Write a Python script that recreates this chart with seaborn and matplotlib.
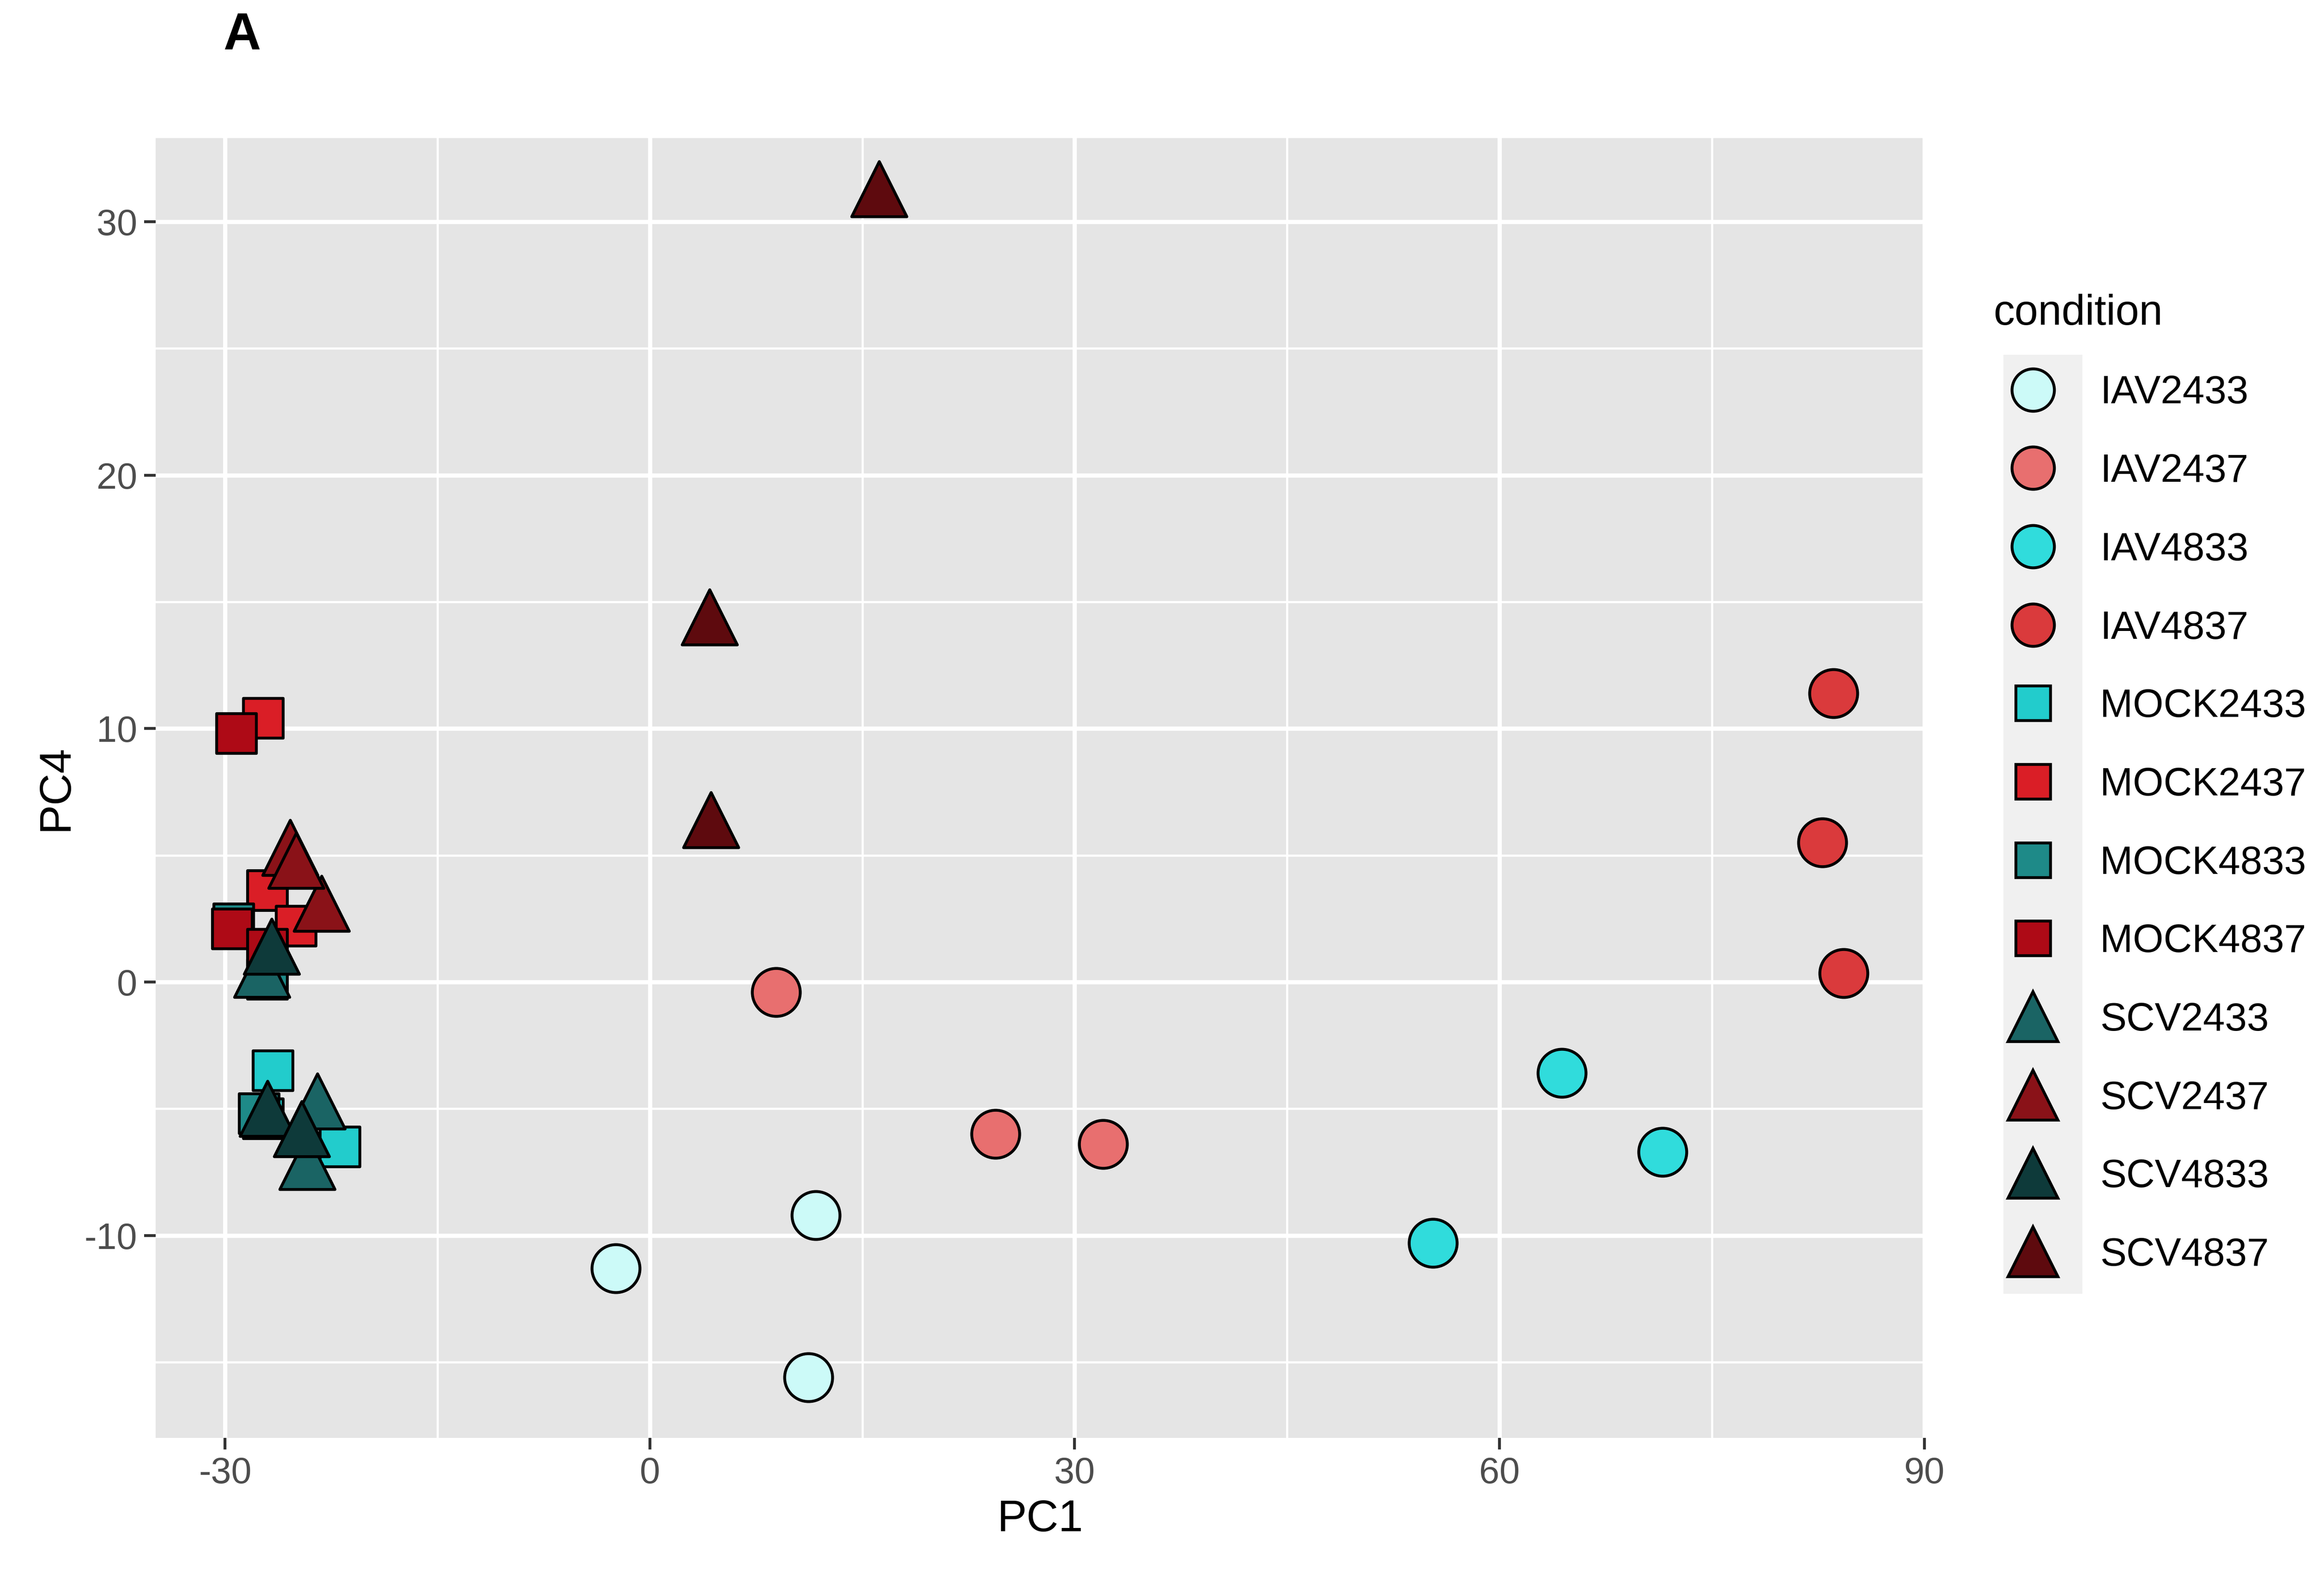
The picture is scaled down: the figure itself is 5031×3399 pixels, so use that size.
import pandas as pd
import matplotlib.pyplot as plt
import seaborn as sns
from matplotlib.lines import Line2D
from matplotlib.patches import Rectangle

plt.rcParams['font.family'] = ['Liberation Sans', 'DejaVu Sans']
plt.rcParams['axes.unicode_minus'] = False

conditions = ['IAV2433', 'IAV2437', 'IAV4833', 'IAV4837', 'MOCK2433', 'MOCK2437',
              'MOCK4833', 'MOCK4837', 'SCV2433', 'SCV2437', 'SCV4833', 'SCV4837']
colors = ['#CCFAF8', '#E86F6F', '#30DCDC', '#DA3A3C', '#22CCCC', '#DA1E26',
          '#1E8A88', '#AE0A16', '#1A6464', '#8A1218', '#0E3A3A', '#5E0A0E']
markers = ['o'] * 4 + ['s'] * 4 + ['^'] * 4

pc1 = {
    'IAV2433': [-2.4, 11.7, 11.2],
    'IAV2437': [8.9, 24.4, 32.0],
    'IAV4833': [55.3, 64.4, 71.5],
    'IAV4837': [83.6, 82.8, 84.3],
    'MOCK2433': [-26.6, -21.9, -27.3],
    'MOCK2437': [-27.3, -27.0, -25.0],
    'MOCK4833': [-29.4, -27.0, -27.6],
    'MOCK4837': [-29.2, -29.5, -27.0],
    'SCV2433': [-27.4, -23.5, -24.2],
    'SCV2437': [-25.4, -23.2, -25.0],
    'SCV4833': [-26.7, -27.0, -24.6],
    'SCV4837': [16.2, 4.2, 4.3],
}
pc4 = {
    'IAV2433': [-11.3, -9.2, -15.6],
    'IAV2437': [-0.4, -6.0, -6.4],
    'IAV4833': [-10.3, -3.6, -6.7],
    'IAV4837': [11.4, 5.5, 0.35],
    'MOCK2433': [-3.5, -6.5, -5.4],
    'MOCK2437': [10.4, 3.6, 2.2],
    'MOCK4833': [2.3, 0.1, -5.2],
    'MOCK4837': [9.8, 2.1, 1.3],
    'SCV2433': [0.5, -4.7, -7.1],
    'SCV2437': [5.3, 3.1, 4.8],
    'SCV4833': [1.4, -5.0, -5.8],
    'SCV4837': [31.3, 14.4, 6.4],
}

marker_size = {'o': 620, 's': 430, '^': 820}
legend_size = {'o': 22, 's': 18, '^': 26}

fig = plt.figure(figsize=(16.77, 11.33), dpi=300)
ax = fig.add_axes([0.067, 0.084, 0.761, 0.828])
ax.set_facecolor('#E5E5E5')

for c, col, m in zip(conditions, colors, markers):
    sub = pd.DataFrame({'PC1': pc1[c], 'PC4': pc4[c]})
    sns.scatterplot(data=sub, x='PC1', y='PC4', color=col, marker=m,
                    s=marker_size[m], edgecolor='black', linewidth=1.5,
                    legend=False, ax=ax, zorder=3)

ax.set_xlim(-34.9, 89.7)
ax.set_ylim(-18.0, 33.3)
ax.set_xticks([-30, 0, 30, 60, 90])
ax.set_yticks([-10, 0, 10, 20, 30])
ax.set_xticks([-15, 15, 45, 75], minor=True)
ax.set_yticks([-15, -5, 5, 15, 25], minor=True)
ax.grid(which='major', color='white', linewidth=2.2)
ax.grid(which='minor', color='white', linewidth=1.1)
ax.set_axisbelow(True)
for sp in ax.spines.values():
    sp.set_visible(False)
ax.tick_params(which='major', length=6, width=1.5, color='#333333',
               labelsize=19, labelcolor='#4D4D4D')
ax.tick_params(which='minor', length=0)
ax.set_xlabel('PC1', fontsize=23, labelpad=4)
ax.set_ylabel('PC4', fontsize=23, labelpad=4)

# grey key background like ggplot
fig.patches.append(Rectangle((0.862, 0.176), 0.034, 0.598, transform=fig.transFigure,
                             facecolor='#F0F0F0', edgecolor='none', zorder=0))

handles = [Line2D([], [], marker=m, linestyle='', markersize=legend_size[m],
                  markerfacecolor=col, markeredgecolor='black', markeredgewidth=1.5)
           for m, col in zip(markers, colors)]
leg = fig.legend(handles, conditions, title='condition', loc='upper left',
                 bbox_to_anchor=(0.851, 0.823), frameon=False, fontsize=20.5,
                 title_fontsize=22, labelspacing=1.05, handletextpad=0.7,
                 borderaxespad=0)
leg._legend_box.align = 'left'

fig.text(0.096, 0.977, 'A', fontsize=27, fontweight='bold', va='center')

fig.savefig('out.png', dpi=300)
